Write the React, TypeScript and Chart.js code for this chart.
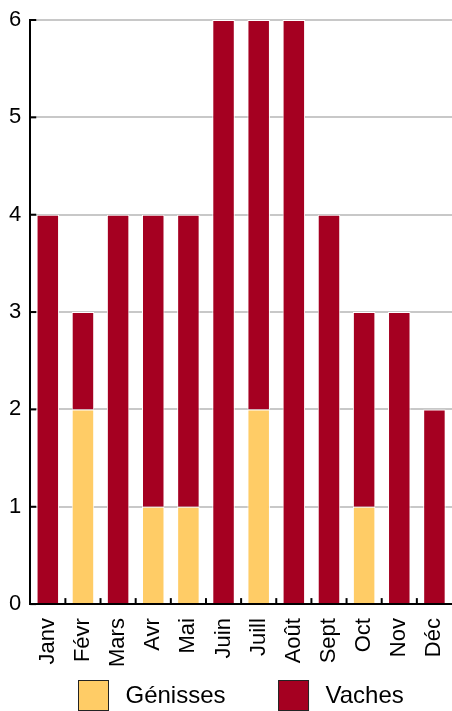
import React, { useEffect, useRef } from "react";
import { Chart, registerables } from "chart.js";
Chart.register(...registerables);

const months = ["Janv", "Févr", "Mars", "Avr", "Mai", "Juin", "Juill", "Août", "Sept", "Oct", "Nov", "Déc"];
const genisses = [0, 2, 0, 1, 1, 0, 2, 0, 0, 1, 0, 0];
const vaches = [4, 1, 4, 3, 3, 6, 4, 6, 4, 2, 3, 2];
const seriesNames = ["Génisses", "Vaches"];
const seriesColors = ["#FFCC66", "#A50021"];

const FONT = "'Liberation Sans', Arial, sans-serif";

const innerTicks = {
  id: "innerTicks",
  afterDatasetsDraw(chart: any) {
    const { ctx, chartArea, scales } = chart;
    const x = scales.x;
    const y = scales.y;
    ctx.save();
    ctx.strokeStyle = "#000";
    ctx.lineWidth = 2;
    y.ticks.forEach((_t: any, i: number) => {
      const py = y.getPixelForTick(i);
      ctx.beginPath();
      ctx.moveTo(chartArea.left, py);
      ctx.lineTo(chartArea.left + 6, py);
      ctx.stroke();
    });
    const n = chart.data.labels.length;
    for (let i = 1; i < n; i++) {
      const px = (x.getPixelForValue(i - 1) + x.getPixelForValue(i)) / 2;
      ctx.beginPath();
      ctx.moveTo(px, chartArea.bottom);
      ctx.lineTo(px, chartArea.bottom - 6);
      ctx.stroke();
    }
    ctx.restore();
  },
};

const bottomLegend = {
  id: "bottomLegend",
  afterDraw(chart: any) {
    const { ctx, chartArea } = chart;
    const ds = chart.data.datasets;
    const box = 30;
    const gapText = 17;
    const gapItem = 53;
    ctx.save();
    ctx.font = `24px ${FONT}`;
    const widths = ds.map((d: any) => box + gapText + ctx.measureText(d.label).width);
    const total = widths.reduce((a: number, b: number) => a + b, 0) + gapItem * (ds.length - 1);
    let cx = Math.round((chartArea.left + chartArea.right) / 2 - total / 2) + 0.5;
    const top = 680.5;
    ds.forEach((d: any, i: number) => {
      ctx.fillStyle = d.backgroundColor;
      ctx.fillRect(cx, top, box, box);
      ctx.strokeStyle = "#222";
      ctx.lineWidth = 1;
      ctx.strokeRect(cx, top, box, box);
      ctx.fillStyle = "#000";
      ctx.textBaseline = "middle";
      ctx.textAlign = "left";
      ctx.fillText(d.label, cx + box + gapText, top + box / 2 + 1);
      cx += widths[i] + gapItem;
    });
    ctx.restore();
  },
};

export default function App() {
  const ref = useRef<HTMLCanvasElement>(null);
  useEffect(() => {
    document.body.style.margin = "0";
    const chart = new Chart(ref.current!, {
      type: "bar",
      data: {
        labels: months,
        datasets: [
          {
            label: seriesNames[0],
            data: genisses,
            backgroundColor: seriesColors[0],
            borderColor: "#fff",
            borderWidth: 1,
            barPercentage: 0.64,
            categoryPercentage: 1,
          },
          {
            label: seriesNames[1],
            data: vaches,
            backgroundColor: seriesColors[1],
            borderColor: "#fff",
            borderWidth: 1,
            barPercentage: 0.64,
            categoryPercentage: 1,
          },
        ],
      },
      options: {
        responsive: false,
        animation: false,
        layout: { padding: { top: 20, right: 0, left: 0, bottom: 30 } },
        plugins: { legend: { display: false }, tooltip: { enabled: false } },
        scales: {
          x: {
            stacked: true,
            grid: { display: false, drawTicks: false },
            border: { display: true, color: "#000", width: 2 },
            ticks: {
              color: "#000",
              font: { family: FONT, size: 22 },
              minRotation: 90,
              maxRotation: 90,
              padding: 14,
              autoSkip: false,
            },
            afterFit(scale: any) {
              scale.paddingRight = 0;
              scale.paddingLeft = 0;
            },
          },
          y: {
            stacked: true,
            min: 0,
            max: 6,
            grid: { color: "#c8c8c8", lineWidth: 2, drawTicks: false },
            border: { display: true, color: "#000", width: 2 },
            ticks: {
              stepSize: 1,
              color: "#000",
              font: { family: FONT, size: 22 },
              padding: 9,
            },
            afterFit(scale: any) {
              scale.paddingTop = 0;
              scale.paddingBottom = 0;
            },
          },
        },
      },
      plugins: [innerTicks, bottomLegend],
    });
    return () => chart.destroy();
  }, []);
  return <canvas ref={ref} width={452} height={711} />;
}
